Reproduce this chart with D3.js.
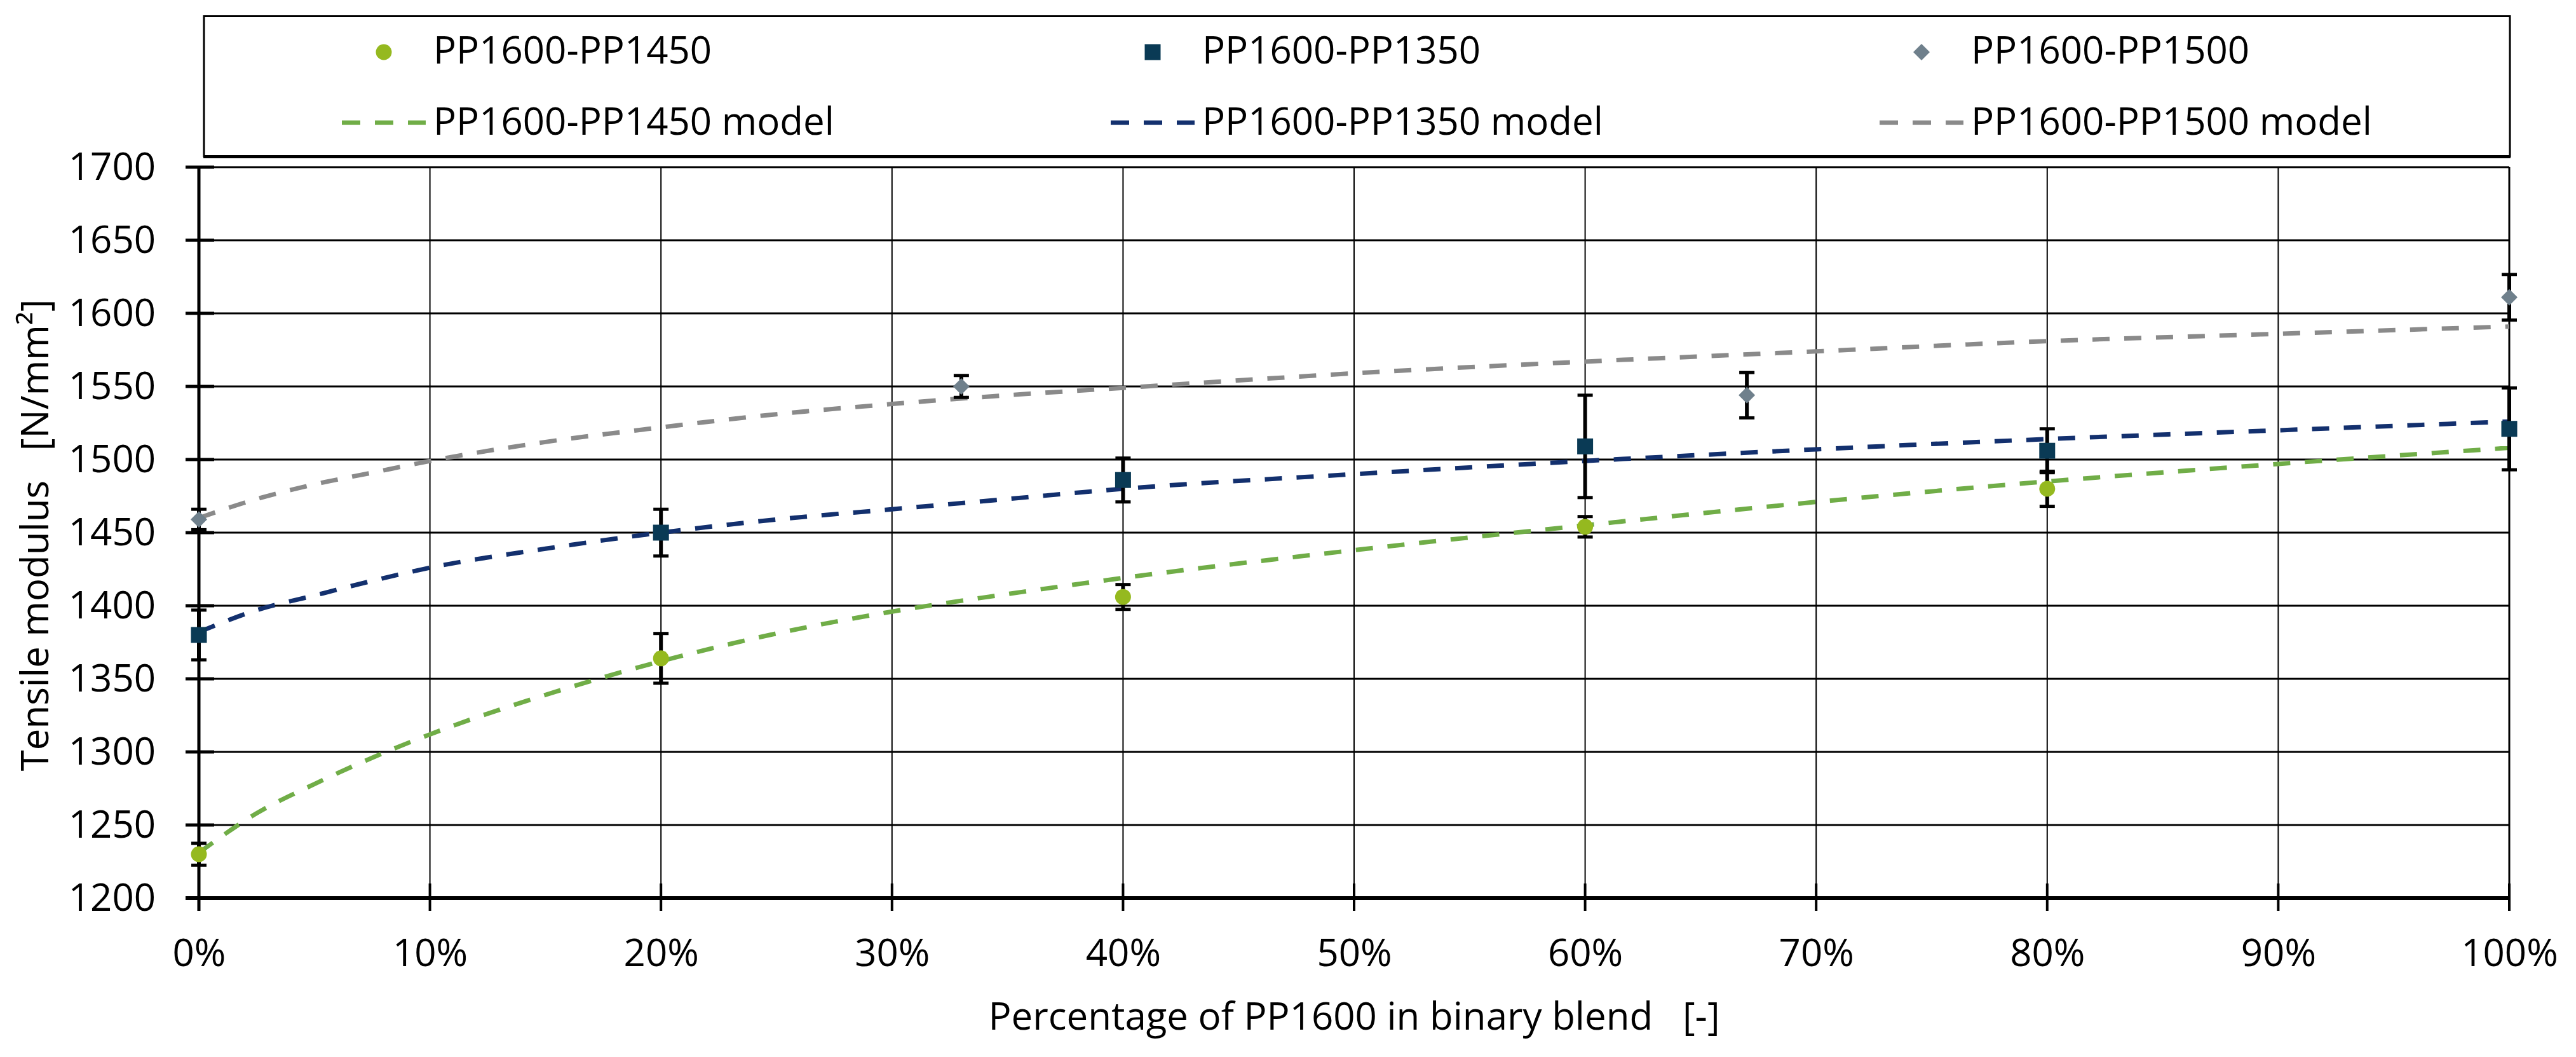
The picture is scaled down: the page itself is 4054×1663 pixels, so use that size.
<!DOCTYPE html>
<html>
<head>
<meta charset="utf-8">
<script src="https://cdn.jsdelivr.net/npm/d3@7"></script>
<style>
  html, body { margin: 0; padding: 0; background: #fff; }
  svg { display: block; }
  text { font-family: "Open Sans", "Liberation Sans", sans-serif; fill: #000; }
</style>
</head>
<body>
<svg id="chart" width="4054" height="1663"></svg>
<script>
// ---------- data ----------
const xTicks = [0, 10, 20, 30, 40, 50, 60, 70, 80, 90, 100];
const yTicks = [1200, 1250, 1300, 1350, 1400, 1450, 1500, 1550, 1600, 1650, 1700];

const series = ["PP1600-PP1450", "PP1600-PP1350", "PP1600-PP1500"];

// measured points
const x1450 = [0, 20, 40, 60, 80];
const y1450 = [1230, 1364, 1406, 1454, 1480];
const e1450 = [7.5, 17, 8.5, 7, 12];

const x1350 = [0, 20, 40, 60, 80, 100];
const y1350 = [1380, 1450, 1486, 1509, 1506, 1521];
const e1350 = [17, 16, 15, 35, 15, 28];

const x1500 = [0, 33, 67, 100];
const y1500 = [1459, 1550, 1544, 1611];
const e1500 = [7, 7.5, 15.5, 15.6];

// model curves
const xModel = [0, 2.5, 5, 7.5, 10, 15, 20, 25, 30, 35, 40, 50, 60, 70, 80, 90, 100];
const m1450 = [1231, 1258, 1278, 1296, 1312, 1339, 1362, 1381, 1396, 1408, 1419, 1438, 1455, 1471, 1485, 1497, 1508];
const m1350 = [1382, 1397, 1407, 1417, 1426, 1439, 1450, 1459, 1466, 1473, 1480, 1490, 1499, 1507, 1514, 1520, 1526];
const m1500 = [1460, 1473, 1483, 1491, 1499, 1512, 1522, 1531, 1538, 1544, 1549, 1559, 1567, 1574, 1581, 1586, 1591];

const markerColors = ["#95b91f", "#0a3a55", "#6f808c"];
const modelColors = ["#70ad47", "#13306e", "#8a8a8a"];
const markerShapes = ["circle", "square", "diamond"];

// ---------- layout ----------
const svg = d3.select("#chart");
svg.append("rect").attr("width", 4054).attr("height", 1663).attr("fill", "#fff");

const x = d3.scaleLinear().domain([0, 100]).range([313, 3949]);
const y = d3.scaleLinear().domain([1200, 1700]).range([1413, 263]);

// gridlines
const grid = svg.append("g");
grid.selectAll("line.h").data(yTicks).join("line")
  .attr("x1", x(0)).attr("x2", x(100))
  .attr("y1", d => y(d)).attr("y2", d => y(d))
  .attr("stroke", "#000").attr("stroke-width", 3);
grid.selectAll("line.v").data(xTicks).join("line")
  .attr("x1", d => x(d)).attr("x2", d => x(d))
  .attr("y1", y(1700)).attr("y2", y(1200))
  .attr("stroke", "#000").attr("stroke-width", 2);
// right border
svg.append("line").attr("x1", x(100)).attr("x2", x(100)).attr("y1", y(1700)).attr("y2", y(1200))
  .attr("stroke", "#000").attr("stroke-width", 3);

// y axis (labels via d3 axis)
const yAxis = svg.append("g").attr("transform", `translate(${x(0)},0)`)
  .call(d3.axisLeft(y).tickValues(yTicks).tickSize(0).tickPadding(68).tickFormat(d3.format("d")));
yAxis.select(".domain").remove();
yAxis.selectAll("text").attr("font-size", 60).attr("font-family", "'Open Sans', sans-serif");
// y tick marks crossing the axis
svg.append("g").selectAll("line").data(yTicks).join("line")
  .attr("x1", x(0) - 21).attr("x2", x(0) + 24)
  .attr("y1", d => y(d)).attr("y2", d => y(d))
  .attr("stroke", "#000").attr("stroke-width", 5);
svg.append("line").attr("x1", x(0)).attr("x2", x(0)).attr("y1", y(1700) - 2).attr("y2", y(1200) + 20)
  .attr("stroke", "#000").attr("stroke-width", 5);

// x axis
const xAxis = svg.append("g").attr("transform", `translate(0,${y(1200)})`)
  .call(d3.axisBottom(x).tickValues(xTicks).tickSize(0).tickPadding(64).tickFormat(d => d + "%"));
xAxis.select(".domain").remove();
xAxis.selectAll("text").attr("font-size", 60).attr("font-family", "'Open Sans', sans-serif");
svg.append("g").selectAll("line").data(xTicks).join("line")
  .attr("x1", d => x(d)).attr("x2", d => x(d))
  .attr("y1", y(1200) - 23).attr("y2", y(1200) + 20)
  .attr("stroke", "#000").attr("stroke-width", 4);
svg.append("line").attr("x1", x(0) - 21).attr("x2", x(100)).attr("y1", y(1200)).attr("y2", y(1200))
  .attr("stroke", "#000").attr("stroke-width", 6);

// axis titles
svg.append("text").attr("x", (x(0) + x(100)) / 2).attr("y", 1620)
  .attr("text-anchor", "middle").attr("font-size", 60).style("white-space", "pre")
  .text("Percentage of PP1600 in binary blend   [-]");
svg.append("text").attr("transform", `translate(76,${(y(1200) + y(1700)) / 2 + 4}) rotate(-90)`)
  .attr("text-anchor", "middle").attr("font-size", 60).style("white-space", "pre")
  .text("Tensile modulus   [N/mm²]");

// model lines
const line = d3.line().x(d => x(d[0])).y(d => y(d[1])).curve(d3.curveMonotoneX);
[m1450, m1350, m1500].forEach((m, i) => {
  svg.append("path").datum(xModel.map((v, k) => [v, m[k]]))
    .attr("d", line).attr("fill", "none")
    .attr("stroke", modelColors[i]).attr("stroke-width", 7)
    .attr("stroke-dasharray", "27,23");
});

// error bars
const sets = [
  { xs: x1450, ys: y1450, es: e1450 },
  { xs: x1350, ys: y1350, es: e1350 },
  { xs: x1500, ys: y1500, es: e1500 }
];
const eg = svg.append("g");
sets.forEach(s => {
  s.xs.forEach((xv, k) => {
    const cx = x(xv), top = y(s.ys[k] + s.es[k]), bot = y(s.ys[k] - s.es[k]);
    eg.append("line").attr("x1", cx).attr("x2", cx).attr("y1", top).attr("y2", bot)
      .attr("stroke", "#000").attr("stroke-width", 6);
    [top, bot].forEach(yy => eg.append("line").attr("x1", cx - 12).attr("x2", cx + 12)
      .attr("y1", yy).attr("y2", yy).attr("stroke", "#000").attr("stroke-width", 5));
  });
});

// markers
function drawMarker(g, shape, cx, cy, color) {
  if (shape === "circle") {
    g.append("circle").attr("cx", cx).attr("cy", cy).attr("r", 12.5).attr("fill", color);
  } else if (shape === "square") {
    g.append("rect").attr("x", cx - 12.5).attr("y", cy - 12.5).attr("width", 25).attr("height", 25).attr("fill", color);
  } else {
    g.append("path").attr("d", `M${cx},${cy - 13}L${cx + 13},${cy}L${cx},${cy + 13}L${cx - 13},${cy}Z`).attr("fill", color);
  }
}
const mg = svg.append("g");
sets.forEach((s, i) => {
  s.xs.forEach((xv, k) => drawMarker(mg, markerShapes[i], x(xv), y(s.ys[k]), markerColors[i]));
});

// legend
const lg = svg.append("g");
lg.append("rect").attr("x", 321).attr("y", 25.5).attr("width", 3629).attr("height", 220)
  .attr("fill", "#fff").attr("stroke", "#000").attr("stroke-width", 3);
lg.append("line").attr("x1", 320).attr("x2", 3951).attr("y1", 246.5).attr("y2", 246.5)
  .attr("stroke", "#000").attr("stroke-width", 5);
const legendTextX = [682, 1892, 3102];
series.forEach((name, i) => {
  const tx = legendTextX[i];
  drawMarker(lg, markerShapes[i], tx - 78, 82, markerColors[i]);
  lg.append("text").attr("x", tx).attr("y", 100).attr("font-size", 60).text(name);
  lg.append("line").attr("x1", tx - 144).attr("x2", tx - 12).attr("y1", 193).attr("y2", 193)
    .attr("stroke", modelColors[i]).attr("stroke-width", 7).attr("stroke-dasharray", "29,23");
  lg.append("text").attr("x", tx).attr("y", 212).attr("font-size", 60).text(name + " model");
});
</script>
</body>
</html>
